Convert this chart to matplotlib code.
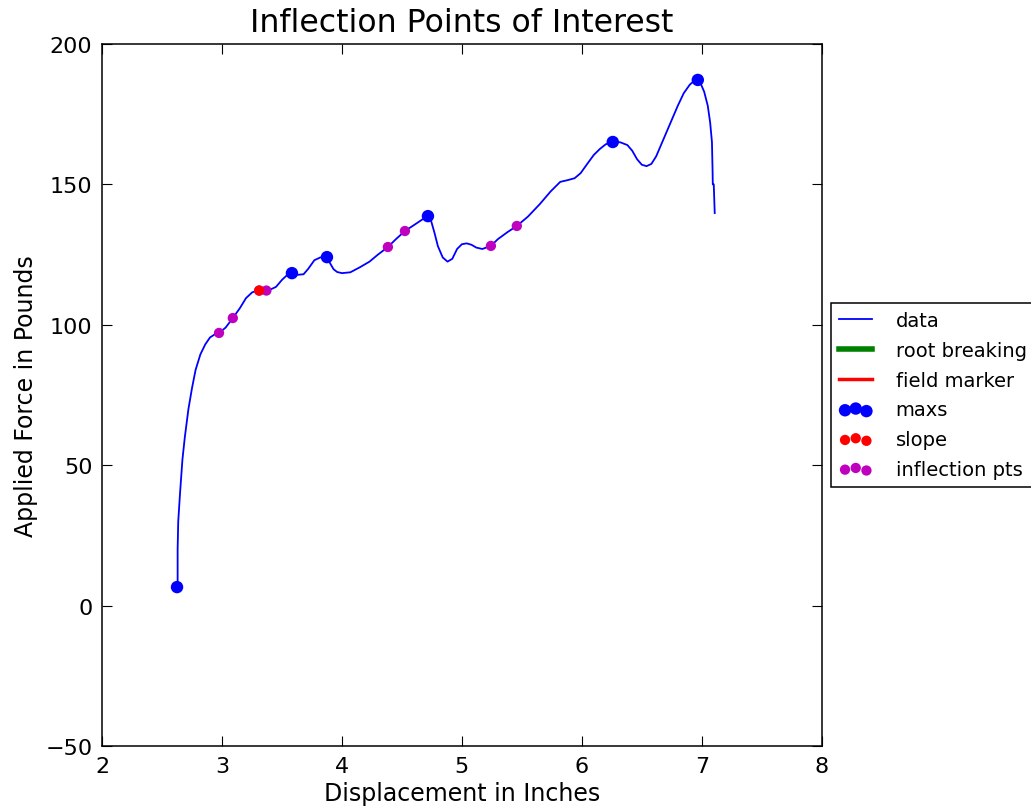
import matplotlib
matplotlib.use('Agg')
import matplotlib.pyplot as plt

# кривая нагрузка-перемещение
disp = [2.63, 2.63, 2.635, 2.65, 2.67, 2.69, 2.72, 2.75, 2.78, 2.82, 2.86, 2.9, 2.94, 2.975,
        3.03, 3.09, 3.15, 3.2, 3.25, 3.3, 3.35, 3.4, 3.45, 3.5, 3.55, 3.583, 3.63, 3.68,
        3.72, 3.77, 3.82, 3.875, 3.9, 3.93, 3.96, 4.0, 4.07, 4.15, 4.23, 4.3, 4.383, 4.45,
        4.525, 4.6, 4.67, 4.717, 4.74, 4.77, 4.8, 4.84, 4.88, 4.92, 4.96, 5.0, 5.04, 5.08,
        5.12, 5.17, 5.242, 5.3, 5.38, 5.458, 5.55, 5.65, 5.74, 5.82, 5.88, 5.94, 5.99,
        6.04, 6.1, 6.15, 6.2, 6.258, 6.32, 6.38, 6.42, 6.46, 6.5, 6.54, 6.58, 6.62, 6.66,
        6.7, 6.75, 6.8, 6.85, 6.9, 6.94, 6.967, 6.99, 7.02, 7.05, 7.07, 7.085, 7.09, 7.092,
        7.1, 7.108]
force = [6.6, 20.0, 30.0, 40.0, 52.0, 60.0, 70.0, 77.5, 84.0, 89.5, 93.0, 95.5, 96.6, 97.1,
         99.0, 102.4, 106.0, 109.5, 111.5, 112.4, 112.4, 112.5, 113.5, 116.0, 118.0, 118.4, 117.8,
         118.0, 120.0, 123.0, 124.0, 124.1, 122.0, 119.8, 118.8, 118.4, 118.7, 120.5, 122.5, 125.0,
         127.7, 130.5, 133.4, 135.5, 137.5, 138.7, 137.5, 133.0, 128.0, 124.0, 122.5, 123.5, 127.0,
         128.7, 129.0, 128.5, 127.5, 127.0, 128.1, 130.5, 133.0, 135.2, 138.5, 143.0, 147.5, 150.9,
         151.5, 152.2, 154.0, 157.0, 160.5, 162.6, 164.3, 165.1, 165.0, 164.0, 162.0, 159.0, 157.0,
         156.5, 157.3, 160.0, 164.0, 168.0, 173.0, 178.0, 182.5, 185.5, 187.0, 187.2, 186.0, 183.0,
         178.0, 172.0, 165.0, 155.0, 150.0, 150.0, 139.8]

max_x = [2.625, 3.583, 3.875, 4.717, 6.258, 6.967]
max_y = [6.6, 118.4, 124.1, 138.7, 165.1, 187.2]

slope_x = [3.31]
slope_y = [112.2]

infl_x = [2.975, 3.09, 3.31, 3.37, 4.383, 4.525, 5.242, 5.458]
infl_y = [97.1, 102.4, 112.2, 112.2, 127.7, 133.4, 128.1, 135.2]

fig = plt.figure(figsize=(10.31, 8.12), dpi=100)
ax = fig.add_axes([0.099, 0.080, 0.698, 0.8646])

ax.plot(disp, force, color='b', lw=1.3, label='data')
ax.plot([], [], color='g', lw=4, label='root breaking')
ax.plot([], [], color='r', lw=2.5, label='field marker')
ax.scatter(max_x, max_y, s=80, c='b', edgecolors='none', label='maxs', zorder=3)
ax.scatter(infl_x, infl_y, s=55, c='m', edgecolors='none', label='inflection pts', zorder=3)
ax.scatter(slope_x, slope_y, s=55, c='r', edgecolors='none', label='slope', zorder=4)

ax.set_xlim(2, 8)
ax.set_ylim(-50, 200)
ax.set_xticks([2, 3, 4, 5, 6, 7, 8])
ax.set_yticks([-50, 0, 50, 100, 150, 200])
ax.tick_params(direction='in', top=True, right=True, labelsize=16, length=7, pad=7)
for s in ax.spines.values():
    s.set_linewidth(1.1)

ax.set_title('Inflection Points of Interest', fontsize=22.7, pad=9)
ax.set_xlabel('Displacement in Inches', fontsize=17, labelpad=4)
ax.set_ylabel('Applied Force in Pounds', fontsize=17, labelpad=5)

# порядок в легенде как на картинке
h, l = ax.get_legend_handles_labels()
order = ['data', 'root breaking', 'field marker', 'maxs', 'slope', 'inflection pts']
h = [h[l.index(o)] for o in order]
leg = ax.legend(h, order, loc='center left', bbox_to_anchor=(1.0, 0.5), fontsize=14,
                scatterpoints=3, scatteryoffsets=[0.375, 0.5, 0.3125], fancybox=False,
                framealpha=1, edgecolor='black', borderaxespad=0.5, labelspacing=0.55,
                handlelength=1.7, handletextpad=1.2, borderpad=0.4)
leg.get_frame().set_linewidth(1.1)

fig.savefig('out.png', dpi=100)
